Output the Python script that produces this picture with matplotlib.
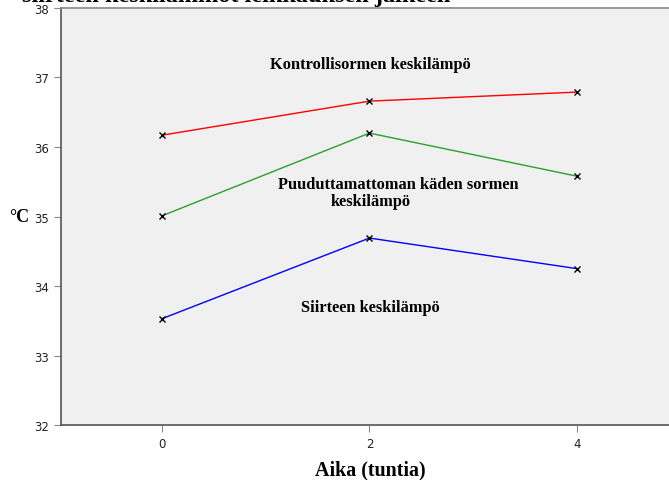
import matplotlib
matplotlib.use("Agg")
import matplotlib.pyplot as plt

# Mean temperatures (°C) at each time point (hours)
hours = [0, 2, 4]
control_finger = [36.17, 36.66, 36.79]
unanaesthetised_finger = [35.01, 36.20, 35.58]
graft = [33.53, 34.69, 34.25]
y_ticks = [32, 33, 34, 35, 36, 37, 38]

serif = ["Liberation Serif", "DejaVu Serif"]

fig = plt.figure(figsize=(6.69, 4.81), dpi=100)
ax = fig.add_axes([0.0912, 0.1143, 0.95, 0.867])
ax.set_facecolor("#f0f0f0")

for vals, col in [(control_finger, "#ff0000"),
                  (unanaesthetised_finger, "#2ca02c"),
                  (graft, "#0000ff")]:
    ax.plot(hours, vals, color=col, lw=1.0, zorder=2)
    ax.plot(hours, vals, ls="none", marker="x", ms=4, mew=1.0,
            color="black", zorder=3)

ax.set_xlim(-0.973, 5.153)
ax.set_ylim(32, 38)
ax.set_xticks(hours)
ax.set_yticks(y_ticks)
ax.tick_params(axis="both", direction="out", length=5, width=0.8,
               color="#888888", labelsize=8.5, labelcolor="#222222")
for lab in ax.get_xticklabels() + ax.get_yticklabels():
    lab.set_family(["Liberation Sans Narrow", "DejaVu Sans"])
for side in ["left", "bottom", "top"]:
    ax.spines[side].set_color("#555555")
    ax.spines[side].set_linewidth(1.2)
ax.spines["top"].set_color("#888888")
ax.spines["right"].set_visible(False)

# Series labels
lbl = dict(ha="center", va="center", fontsize=11.8, fontweight="bold",
           family=serif)
ax.text(2.01, 37.19, "Kontrollisormen keskilämpö", **lbl)
ax.text(2.28, 35.47, "Puuduttamattoman käden sormen", **lbl)
ax.text(2.01, 35.22, "keskilämpö", **lbl)
ax.text(2.01, 33.70, "Siirteen keskilämpö", **lbl)

# Axis titles
fig.text(370 / 669, 1 - 470 / 481, "Aika (tuntia)", ha="center", va="center",
         fontsize=14.4, fontweight="bold", family=serif)
fig.text(19 / 669, 1 - 218 / 481, "°C", ha="center", va="center",
         fontsize=13, fontweight="bold", family=serif)

# Chart title
fig.text(22 / 669, 1 - 2 / 481, "siirteen keskilämmöt leikkauksen jälkeen",
         ha="left", va="baseline", fontsize=17.5, fontweight="bold",
         family=serif)

fig.savefig("out.png", dpi=100)
